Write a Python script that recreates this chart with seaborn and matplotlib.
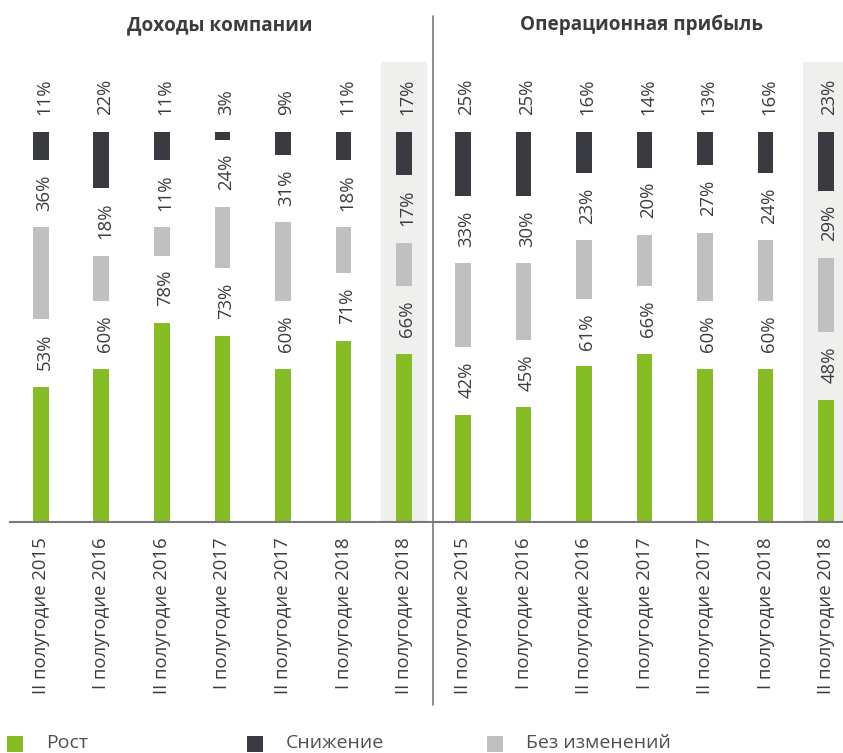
import numpy as np
import pandas as pd
import matplotlib
matplotlib.use("Agg")
import matplotlib.pyplot as plt
from matplotlib.patches import Rectangle
from matplotlib.lines import Line2D
import seaborn as sns

# ---- data -------------------------------------------------------------
periods = ["II полугодие 2015", "I полугодие 2016", "II полугодие 2016",
           "I полугодие 2017", "II полугодие 2017", "I полугодие 2018",
           "II полугодие 2018"]

panel_titles = ["Доходы компании", "Операционная прибыль"]
series_names = ["Рост", "Снижение", "Без изменений"]

revenue_up = [53, 60, 78, 73, 60, 71, 66]
revenue_flat = [36, 18, 11, 24, 31, 18, 17]
revenue_down = [11, 22, 11, 3, 9, 11, 17]

profit_up = [42, 45, 61, 66, 60, 60, 48]
profit_flat = [33, 30, 23, 20, 27, 24, 29]
profit_down = [25, 25, 16, 14, 13, 16, 23]

# ---- style ------------------------------------------------------------
sns.set_theme(style="white")
plt.rcParams["font.family"] = ["Open Sans", "DejaVu Sans"]

GREEN = "#86BC25"
DARK = "#3A3B40"
GREY = "#BFC0BF"
HIGHLIGHT = "#EFEFED"
TEXT = "#3C3C3C"
GAP = 26.5          # empty space between stacked segments
BAR_W = 0.264
LABEL_FS = 13.3

W, H = 843, 753
fig = plt.figure(figsize=(W / 100, H / 100), dpi=100)


def px_box(left, right, bottom_px, top_px):
    return [left / W, 1 - bottom_px / H, (right - left) / W, (bottom_px - top_px) / H]


ax1 = fig.add_axes(px_box(10, 433, 522, 62))
ax2 = fig.add_axes(px_box(433, 843, 522, 62))
xlims = [(-0.512, 6.479), (-0.496, 6.281)]

panels = [
    (ax1, revenue_up, revenue_flat, revenue_down),
    (ax2, profit_up, profit_flat, profit_down),
]

for i, (ax, up, flat, down) in enumerate(panels):
    up = np.array(up, dtype=float)
    flat = np.array(flat, dtype=float)
    down = np.array(down, dtype=float)
    df = pd.DataFrame({"period": periods, "up": up, "flat": flat, "down": down})

    # highlighted latest period
    ax.axvspan(6 - 0.38, 6 + 0.38, color=HIGHLIGHT, zorder=0, lw=0)

    flat_base = up + GAP
    down_base = flat_base + flat + GAP

    sns.barplot(data=df, x="period", y="up", order=periods, color=GREEN,
                width=BAR_W, errorbar=None, linewidth=0, saturation=1,
                ax=ax, zorder=2)
    sns.barplot(data=df, x="period", y="flat", order=periods, color=GREY,
                width=BAR_W, errorbar=None, linewidth=0, saturation=1,
                bottom=flat_base, ax=ax, zorder=2)
    sns.barplot(data=df, x="period", y="down", order=periods, color=DARK,
                width=BAR_W, errorbar=None, linewidth=0, saturation=1,
                bottom=down_base, ax=ax, zorder=2)

    # value labels above every segment
    for k in range(len(periods)):
        for val, top in ((up[k], up[k]),
                         (flat[k], flat_base[k] + flat[k]),
                         (down[k], down_base[k] + down[k])):
            ax.annotate(f"{val:.0f}%", (k, top), xytext=(2.5, 12.0),
                        textcoords="offset points", rotation=90,
                        ha="center", va="bottom", fontsize=LABEL_FS,
                        color=TEXT)

    ax.set_xlim(*xlims[i])
    ax.set_ylim(0, 180.4)
    ax.set_xlabel("")
    ax.set_ylabel("")
    ax.set_yticks([])
    ax.set_xticks(range(len(periods)))
    ax.set_xticklabels(periods, rotation=90, fontsize=LABEL_FS, color=TEXT)
    ax.tick_params(axis="x", length=0, pad=11)
    for s in ("top", "left", "right"):
        ax.spines[s].set_visible(False)
    ax.spines["bottom"].set_color("#7A7A7A")
    ax.spines["bottom"].set_linewidth(1.5)
    ax.set_facecolor("none")

# panel titles
fig.text(220 / W, 1 - 25 / H, panel_titles[0], ha="center", va="center",
         fontsize=13.6, fontweight="bold", color=TEXT)
fig.text(642 / W, 1 - 25 / H, panel_titles[1], ha="center", va="center",
         fontsize=13.6, fontweight="bold", color=TEXT)

# divider between the panels
fig.add_artist(Line2D([433 / W, 433 / W], [1 - 16 / H, 1 - 705 / H],
                      color="#7A7A7A", lw=1.2))

# legend
legend_colors = [GREEN, DARK, GREY]
square_x = [7, 247, 487]
text_x = [46, 286, 526]
for name, col, sx, tx in zip(series_names, legend_colors, square_x, text_x):
    fig.add_artist(Rectangle((sx / W, 1 - 752 / H), 16 / W, 16 / H,
                             transform=fig.transFigure, color=col, lw=0))
    fig.text(tx / W, 1 - 752 / H, name, ha="left", va="bottom",
             fontsize=14, color="#505050")

fig.savefig("out.png", dpi=100)
